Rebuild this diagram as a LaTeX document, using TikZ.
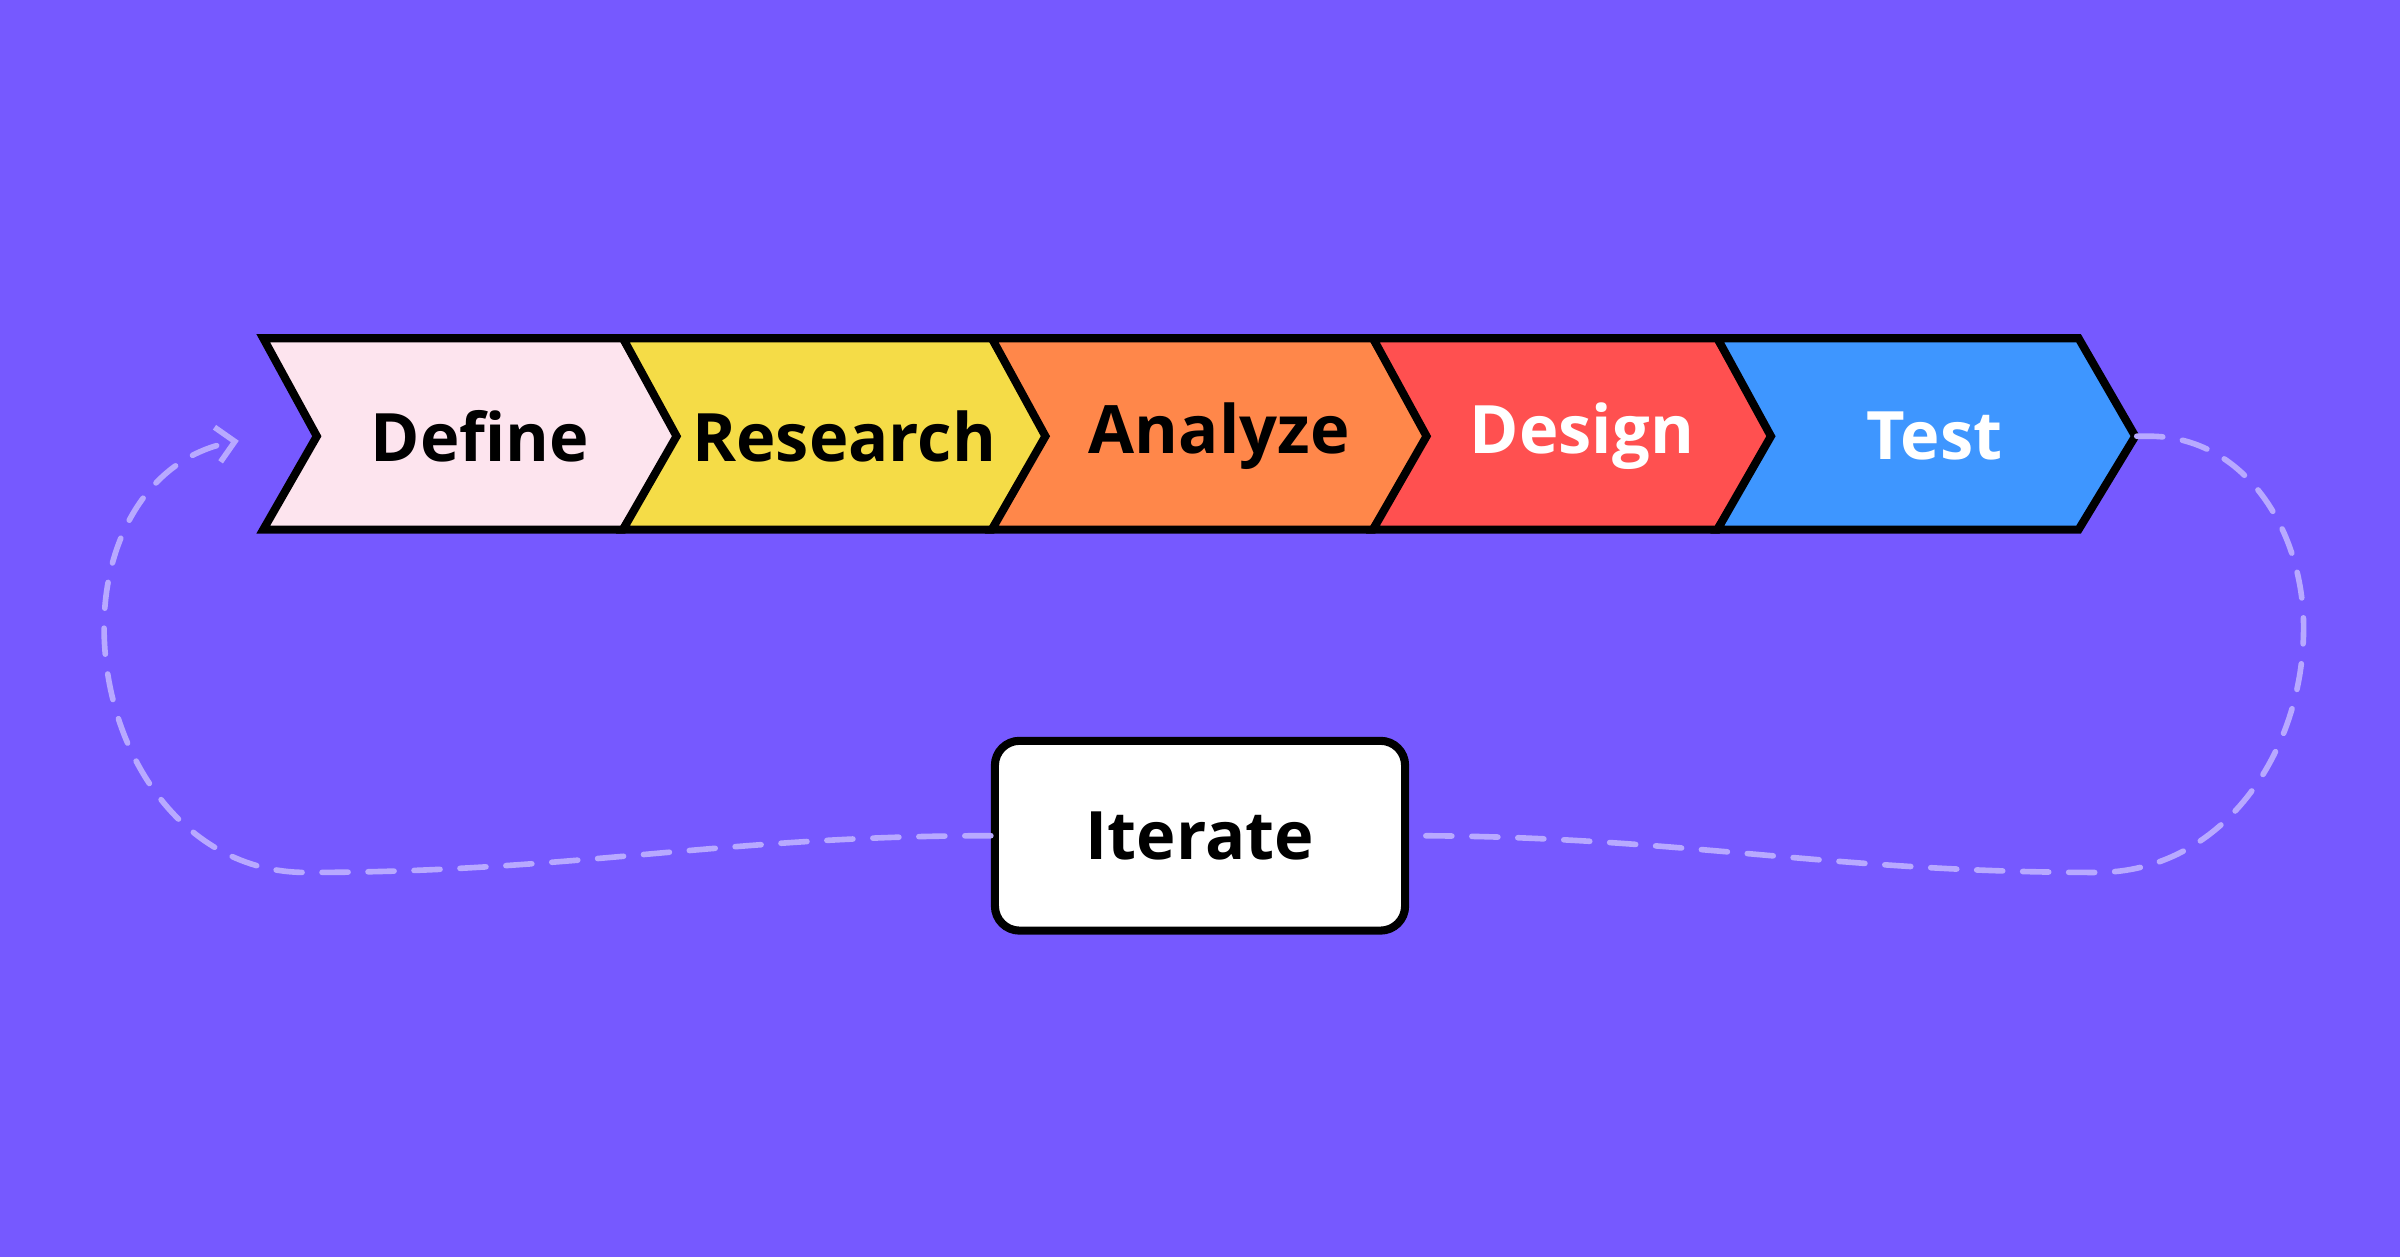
\documentclass[tikz,border=0pt]{standalone}
\usepackage{fontspec}
\setmainfont{Open Sans}
\usetikzlibrary{arrows.meta}
\definecolor{bgviolet}{HTML}{7659FF}
\definecolor{loopline}{HTML}{B8A9FF}
\definecolor{cdefine}{HTML}{FDE4EE}
\definecolor{cresearch}{HTML}{F5DC47}
\definecolor{canalyze}{HTML}{FF874A}
\definecolor{cdesign}{HTML}{FF5050}
\definecolor{ctest}{HTML}{3E96FF}
\tikzset{
  chevron/.style={draw=black, line width=2.3pt, line join=miter},
  steplabel/.style={font=\fontsize{19}{22}\selectfont\bfseries},
  loopdash/.style={draw=loopline, line width=1.6pt, line cap=round,
    dash pattern=on 0.26cm off 0.2cm},
}
\begin{document}
\begin{tikzpicture}[x=0.015306cm, y=-0.015306cm]
    \fill[bgviolet] (0,0) rectangle (1568,821);
    \useasboundingbox (0,0) rectangle (1568,821);

    % chevrons
    \foreach \xa/\xb/\col/\txt/\tcol/\nm in {
        172/407/cdefine/Define/black/define,
        407/648/cresearch/Research/black/research,
        648/897/canalyze/Analyze/black/analyze,
        897/1122/cdesign/Design/white/design,
        1122/1358/ctest/Test/white/test}{
        \draw[chevron, fill=\col] (\xa,221) -- (\xb,221) -- (\xb+37,285)
            -- (\xb,346) -- (\xa,346) -- (\xa+35,285) -- cycle;
        \node[steplabel, text=\tcol] (\nm) at ({(\xa+\xb)/2+24},285) {\txt};
    }
    \coordinate (testtip) at (1396,285);
    \coordinate (definein) at (156,288);

    % iterate box
    \node[draw=black, line width=2.3pt, fill=white, rounded corners=7pt,
          minimum width=268*0.015306cm, minimum height=124*0.015306cm,
          steplabel] (iterate) at (784,546) {Iterate};

    % loop back
    \draw[loopdash] (testtip) -- ++(8,0) to[out=0,in=90] (1505,410)
        to[out=-90,in=0] (1370,570) to[out=180,in=0] (iterate.east);
    \draw[loopdash, -{Straight Barb[length=5pt,width=10pt]}] (iterate.west)
        to[out=180,in=0] (200,570) to[out=180,in=-90] (68,410)
        to[out=90,in=190] (definein);
\end{tikzpicture}
\end{document}
